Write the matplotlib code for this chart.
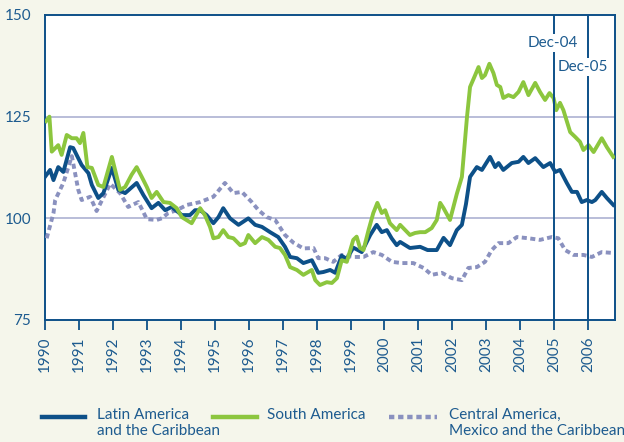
import matplotlib
matplotlib.use("Agg")
import matplotlib.pyplot as plt
from matplotlib.lines import Line2D

# ---------------- data (decimal years, index values) ----------------
lac_t = [0.00, 0.15, 0.25, 0.39, 0.54, 0.74, 0.83, 1.08, 1.28, 1.38, 1.57, 1.72, 1.97, 2.16,
         2.36, 2.70, 2.90, 3.14, 3.34, 3.54, 3.73, 4.03, 4.27, 4.42, 4.57, 4.76, 4.96, 5.11,
         5.25, 5.45, 5.70, 5.99, 6.19, 6.39, 6.63, 6.87, 7.07, 7.22, 7.42, 7.61, 7.86, 8.05,
         8.20, 8.40, 8.55, 8.74, 8.89, 9.08, 9.33, 9.58, 9.77, 9.92, 10.07, 10.21, 10.36, 10.46,
         10.75, 11.05, 11.27, 11.54, 11.74, 11.93, 12.13, 12.28, 12.40, 12.52, 12.72, 12.87,
         13.11, 13.26, 13.36, 13.50, 13.75, 13.95, 14.09, 14.24, 14.44, 14.68, 14.88, 15.03,
         15.17, 15.37, 15.52, 15.67, 15.81, 15.96, 16.11, 16.21, 16.40, 16.55, 16.74]
lac_v = [110.2, 111.9, 109.4, 112.6, 111.4, 117.5, 117.3, 113.1, 111.1, 108.2, 105.0, 106.2,
         112.4, 107.0, 106.2, 108.7, 105.7, 102.5, 103.8, 102.0, 102.8, 100.8, 100.8, 102.0,
         102.0, 100.8, 98.8, 100.3, 102.5, 100.0, 98.4, 100.0, 98.4, 97.9, 96.6, 95.4, 93.0,
         90.5, 90.2, 89.0, 89.7, 86.6, 86.8, 87.3, 86.6, 90.8, 90.0, 92.8, 91.7, 95.9, 98.4,
         96.6, 97.1, 95.1, 93.4, 94.2, 92.7, 93.0, 92.2, 92.2, 95.2, 93.4, 97.1, 98.4, 103.5,
         110.2, 112.6, 111.9, 115.1, 112.6, 113.6, 111.9, 113.6, 113.9, 115.1, 113.6, 114.8,
         112.6, 113.6, 111.4, 111.9, 108.7, 106.5, 106.5, 104.0, 104.5, 104.0, 104.5, 106.5,
         105.0, 103.3]

sa_t = [0.03, 0.13, 0.20, 0.39, 0.49, 0.64, 0.79, 0.93, 1.03, 1.13, 1.25, 1.38, 1.57, 1.72,
        1.97, 2.21, 2.36, 2.55, 2.70, 2.85, 3.00, 3.14, 3.29, 3.49, 3.68, 3.88, 4.03, 4.32,
        4.57, 4.71, 4.86, 4.96, 5.11, 5.25, 5.40, 5.55, 5.75, 5.89, 5.99, 6.19, 6.39, 6.58,
        6.78, 6.92, 7.07, 7.22, 7.42, 7.61, 7.86, 7.96, 8.10, 8.30, 8.45, 8.60, 8.74, 8.89,
        9.08, 9.18, 9.28, 9.38, 9.53, 9.67, 9.79, 9.92, 10.02, 10.16, 10.36, 10.46, 10.75,
        10.90, 11.05, 11.20, 11.39, 11.54, 11.64, 11.74, 11.93, 12.03, 12.13, 12.28, 12.43,
        12.52, 12.67, 12.77, 12.87, 12.96, 13.09, 13.21, 13.31, 13.41, 13.50, 13.65, 13.80,
        13.95, 14.09, 14.24, 14.44, 14.58, 14.73, 14.86, 14.98, 15.06, 15.17, 15.27, 15.47,
        15.62, 15.76, 15.86, 16.01, 16.16, 16.40, 16.55, 16.74]
sa_v = [123.9, 125.0, 116.4, 118.0, 115.6, 120.5, 119.7, 119.7, 118.5, 121.0, 112.6, 112.4,
        108.2, 107.7, 115.1, 107.0, 107.7, 110.7, 112.6, 110.2, 107.7, 105.0, 106.5, 104.0,
        103.8, 102.5, 100.3, 98.8, 102.5, 100.8, 97.9, 95.1, 95.4, 97.1, 95.4, 95.1, 93.4,
        93.9, 95.9, 93.9, 95.4, 94.7, 93.0, 92.7, 91.0, 88.0, 87.3, 86.1, 87.3, 84.8, 83.6,
        84.3, 84.1, 85.3, 89.7, 89.3, 94.7, 95.5, 92.7, 92.2, 97.1, 101.3, 103.8, 101.3,
        102.0, 98.8, 97.1, 98.4, 95.9, 96.4, 96.6, 96.6, 97.6, 99.6, 103.8, 102.5, 99.6,
        102.8, 106.0, 110.2, 124.9, 132.3, 135.2, 137.2, 134.5, 135.2, 138.0, 135.7, 132.8,
        132.3, 129.6, 130.3, 129.8, 131.1, 133.5, 130.3, 133.3, 131.1, 129.1, 130.8, 129.6,
        126.6, 128.4, 126.6, 121.2, 120.0, 118.8, 116.8, 118.0, 116.3, 119.7, 117.5, 115.1]

cam_t = [0.05, 0.25, 0.30, 0.54, 0.79, 0.98, 1.08, 1.33, 1.52, 1.92, 2.21, 2.45, 2.75, 3.00,
         3.29, 3.44, 3.63, 3.88, 4.18, 4.57, 4.96, 5.30, 5.55, 5.80, 6.09, 6.29, 6.53, 6.78,
         7.07, 7.32, 7.61, 7.91, 8.05, 8.25, 8.49, 8.74, 9.08, 9.38, 9.67, 9.92, 10.22, 10.51,
         10.85, 11.15, 11.39, 11.69, 11.98, 12.28, 12.47, 12.72, 12.96, 13.16, 13.36, 13.65,
         13.90, 14.24, 14.58, 14.93, 15.12, 15.32, 15.57, 15.86, 16.11, 16.40, 16.70]
cam_v = [95.1, 101.3, 104.5, 108.7, 115.3, 107.0, 104.5, 105.3, 101.8, 108.5, 106.2, 102.8,
         104.0, 99.8, 99.6, 100.0, 101.3, 102.0, 103.3, 104.0, 105.3, 108.7, 106.2, 106.5,
         104.0, 102.0, 100.3, 99.6, 95.9, 94.0, 92.6, 92.7, 90.2, 90.2, 89.3, 91.0, 90.5,
         90.5, 91.7, 91.0, 89.3, 89.0, 89.0, 87.8, 86.1, 86.6, 85.3, 84.8, 87.8, 88.0, 89.3,
         92.2, 93.9, 93.9, 95.4, 95.1, 94.7, 95.4, 95.1, 92.2, 91.0, 91.0, 90.5, 91.7, 91.5]

start_year = 1990
year_ticks = list(range(1990, 2007))
y_ticks = [75, 100, 125, 150]
marker_years = [2005, 2006]
marker_labels = ["Dec-04", "Dec-05"]
series_labels = ["Latin America\nand the Caribbean", "South America",
                 "Central America,\nMexico and the Caribbean"]

# ---------------- style ----------------
BG = "#f5f6eb"
DARK = "#0d5088"
TXT = "#1d5b8f"
GREEN = "#8cc63e"
LAV = "#8a91bf"
GRID = "#b3b8d6"
FONT = "Lato"

plt.rcParams["font.family"] = [FONT, "DejaVu Sans"]

fig = plt.figure(figsize=(6.24, 4.42), dpi=100, facecolor=BG)
W, H = 624, 442
ax = fig.add_axes([45 / W, 1 - 320 / H, (615 - 45) / W, (320 - 15) / H])
ax.set_facecolor("white")

to_year = lambda ts: [start_year + t for t in ts]

for yv in (100, 125):
    ax.axhline(yv, color=GRID, lw=1.3, zorder=1)

ax.plot(to_year(cam_t), cam_v, color=LAV, lw=2.8, linestyle=(0, (1.3, 0.9)),
        dash_capstyle="butt", zorder=3)
ax.plot(to_year(lac_t), lac_v, color=DARK, lw=2.8, solid_joinstyle="round", zorder=4)
ax.plot(to_year(sa_t), sa_v, color=GREEN, lw=2.8, solid_joinstyle="round", zorder=5)

label_y = [143.1, 137.2]
label_dx = [-0.05, -0.15]
for yr, lab, ly, dx in zip(marker_years, marker_labels, label_y, label_dx):
    ax.axvline(yr, color=DARK, lw=1.4, zorder=6)
    ax.text(yr + dx, ly, lab, ha="center", va="center", color=TXT, fontsize=11,
            zorder=7, bbox=dict(facecolor="white", edgecolor="none", pad=1.5))

ax.set_xlim(1990, start_year + 16.79)
ax.set_ylim(75, 150)
ax.set_xticks(year_ticks)
ax.set_xticklabels([str(y) for y in year_ticks], rotation=90, color=TXT, fontsize=11)
ax.set_yticks(y_ticks)
ax.set_yticklabels([str(y) for y in y_ticks], color=TXT, fontsize=11)
ax.tick_params(axis="x", direction="out", length=7, width=1.3, color=DARK, pad=5)
ax.tick_params(axis="y", length=0, pad=10)
for s in ax.spines.values():
    s.set_color(DARK)
    s.set_linewidth(1.4)

# ---------------- legend (manual) ----------------
handles_px = [(42, 85), (213, 257), (389, 437)]
text_px = [97, 267, 449]
styles = [dict(color=DARK, lw=3.2), dict(color=GREEN, lw=3.2),
          dict(color=LAV, lw=3.2, linestyle=(0, (1.2, 0.85)), dash_capstyle="butt")]
ly = 1 - 417 / H
for (x0, x1), tx, st, lab in zip(handles_px, text_px, styles, series_labels):
    fig.add_artist(Line2D([x0 / W, x1 / W], [ly, ly], transform=fig.transFigure, **st))
    fig.text(tx / W, 1 - 408 / H, lab, ha="left", va="top", color=TXT, fontsize=11,
             linespacing=1.15)

fig.savefig("out.png", dpi=100, facecolor=BG)
